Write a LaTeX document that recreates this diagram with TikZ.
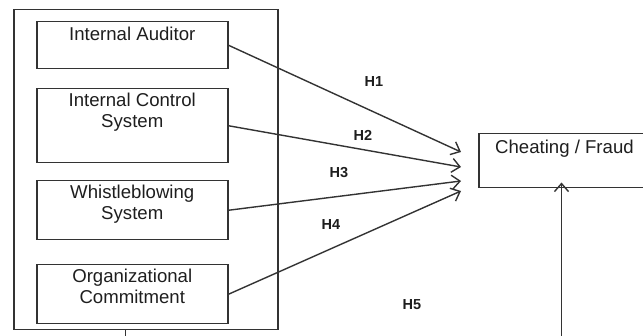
\documentclass[tikz,border=0pt]{standalone}
\usepackage{fontspec}
\setmainfont{Liberation Sans}
\usetikzlibrary{arrows.meta}
\definecolor{ln}{HTML}{333333}
\definecolor{tx}{HTML}{1E1E1E}
\begin{document}
\begin{tikzpicture}[x=1pt,y=-1pt,
  box/.style={draw=ln,line width=1.5pt,rectangle,inner sep=0pt,anchor=north west},
  boxtext/.style={anchor=north,align=center,text=tx,font=\fontsize{18.6}{21}\selectfont,inner sep=0pt},
  hyp/.style={text=tx,font=\fontsize{14.5}{16}\selectfont\bfseries,inner sep=0pt},
  arr/.style={draw=ln,line width=1.4pt,-{Straight Barb[length=8pt,width=14pt,line width=1.4pt]}}]
\useasboundingbox (0,0) rectangle (643,336);
% outer frame
\node[box,minimum width=264pt,minimum height=320pt] (outer) at (13,9) {};
% inner boxes
\node[box,minimum width=191pt,minimum height=47pt] (ia) at (36,21) {};
\node[boxtext] at ([yshift=-6pt]ia.north) {Internal Auditor};
\node[box,minimum width=191pt,minimum height=74pt] (ics) at (36,88) {};
\node[boxtext] at ([yshift=-5pt]ics.north) {Internal Control\\System};
\node[box,minimum width=191pt,minimum height=59pt] (wb) at (36,180) {};
\node[boxtext] at ([yshift=-5pt]wb.north) {Whistleblowing\\System};
\node[box,minimum width=191pt,minimum height=59pt] (oc) at (36,264) {};
\node[boxtext] at ([yshift=-5pt]oc.north) {Organizational\\Commitment};
% target
\node[box,minimum width=180pt,minimum height=54pt] (cf) at (478,133) {};
\node[boxtext,anchor=north west] at (495,140) {Cheating / Fraud};
% arrow end points
\coordinate (e1) at (461,152);
\coordinate (e2) at (461,167);
\coordinate (e3) at (461,181);
\coordinate (e4) at (461,191);
\draw[arr] (ia.east) -- (e1);
\draw[arr] (ics.east) -- (e2);
\draw[arr] (wb.east) -- (e3);
\draw[arr] (oc.east) -- (e4);
% labels
\node[hyp] at (374,82) {H1};
\node[hyp] at (363,135) {H2};
\node[hyp] at (339,173) {H3};
\node[hyp] at (331,225) {H4};
\node[hyp] at (412,305) {H5};
% bottom links
\coordinate (b1) at (125.5,336);
\coordinate (b2) at (561.5,336);
\draw[draw=ln,line width=1.5pt] (outer.south -| b1) -- (b1);
\draw[arr] (b2) -- ([yshift=6pt]cf.south -| b2);
\end{tikzpicture}
\end{document}
